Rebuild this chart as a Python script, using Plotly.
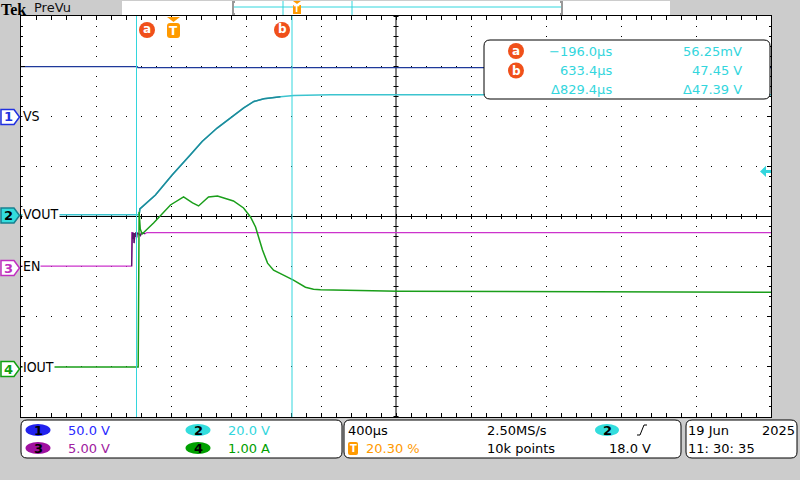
import plotly.graph_objects as go

# ---------------- data ----------------
TIME_RANGE = [-812, 3188]          # µs, 400 µs/div, trigger at 20.30 %
TIME_DIV = 400

# Channel 1  VS  (V)
vs_t = [-812, -192, -188, 3188]
vs_v = [49.5, 49.5, 48.5, 48.5]

# Channel 2  VOUT (V)
vout_t = [-812, -182, -178, -95, -6, 92, 154, 234, 305, 376, 430, 483, 572, 643, 839, 3188]
vout_v = [0.7, 0.7, 3.0, 8.6, 16.6, 24.6, 29.9, 35.3, 39.3, 43.3, 45.9, 47.0, 47.8, 48.3, 48.6, 48.6]

# Channel 3  EN (V)
en_t = [-812, -222, -221, -218, -216, -214, -211, -209, -207, -204, -202, -200, -196, -195,
        -193, -185, -175, -170, -150, -140, 3188]
en_v = [0.05, 0.05, 3.4, 3.4, 2.75, 3.35, 3.3, 2.35, 3.3, 3.35, 2.95, 3.35, 3.3, 2.9,
        3.35, 3.3, 3.1, 3.35, 3.3, 3.4, 3.4]

# Channel 4  IOUT (A)
io_t = [-812, -187, -182, -176, -166, -105, -15, 55, 103, 135, 188, 236, 321, 375, 412, 439,
        455, 476, 503, 535, 588, 641, 705, 748, 785, 1200, 3188]
io_v = [0, 0, 3.09, 2.75, 2.65, 2.87, 3.23, 3.39, 3.27, 3.21, 3.39, 3.41, 3.31, 3.17, 2.99, 2.79,
        2.59, 2.33, 2.07, 1.93, 1.83, 1.73, 1.59, 1.55, 1.54, 1.51, 1.49]

# Cursors
cursor_a_t = -196.0
cursor_b_t = 633.4
trigger_level = 18.0

# Scales (value range per channel, 8 vertical divisions)
ch1_range = [-300, 100]   # 50 V/div
ch2_range = [-80, 80]     # 20 V/div
ch3_range = [-15, 25]     # 5 V/div
ch4_range = [-1, 7]       # 1 A/div

readout_rows = [["−196.0µs", "56.25mV"], ["633.4µs", "47.45 V"], ["Δ829.4µs", "Δ47.39 V"]]

# ---------------- geometry helpers ----------------
W, H = 800, 480
L, R, T, B = 21, 771, 16, 417


def px(x):
    return (x - L) / (R - L)


def py(y):
    return (B - y) / (B - T)


def rrect(x0, y0, x1, y1, r):
    return (f"M{px(x0 + r)},{py(y0)} L{px(x1 - r)},{py(y0)} Q{px(x1)},{py(y0)} {px(x1)},{py(y0 + r)} "
            f"L{px(x1)},{py(y1 - r)} Q{px(x1)},{py(y1)} {px(x1 - r)},{py(y1)} "
            f"L{px(x0 + r)},{py(y1)} Q{px(x0)},{py(y1)} {px(x0)},{py(y1 - r)} "
            f"L{px(x0)},{py(y0 + r)} Q{px(x0)},{py(y0)} {px(x0 + r)},{py(y0)} Z")


def poly(points):
    s = "M" + " L".join(f"{px(x)},{py(y)}" for x, y in points) + " Z"
    return s


FONT = "DejaVu Sans"
C1, C2, C2D, C3, C4 = "#1f3a9a", "#3cc4cf", "#1f8a9a", "#cc33cc", "#1a9e1a"
CYAN = "#33d6dd"
ORANGE = "#ff9a00"
RED = "#f0501a"

fig = go.Figure()

fig.add_trace(go.Scatter(x=vs_t, y=vs_v, mode="lines", line=dict(color=C1, width=1.3), yaxis="y2"))
fig.add_trace(go.Scatter(x=en_t, y=en_v, mode="lines", line=dict(color=C3, width=1.3), yaxis="y3"))
g_t = [t for t in en_t if -222 <= t <= -150]
g_v = [v for t, v in zip(en_t, en_v) if -222 <= t <= -150]
fig.add_trace(go.Scatter(x=g_t, y=g_v, mode="lines", line=dict(color="#5a1a6a", width=1.3), yaxis="y3"))
fig.add_trace(go.Scatter(x=io_t, y=io_v, mode="lines", line=dict(color=C4, width=1.5), yaxis="y4"))
fig.add_trace(go.Scatter(x=vout_t, y=vout_v, mode="lines", line=dict(color=C2, width=1.5), yaxis="y"))
r_t = [t for t in vout_t if -182 <= t <= 572]
r_v = [v for t, v in zip(vout_t, vout_v) if -182 <= t <= 572]
fig.add_trace(go.Scatter(x=r_t, y=r_v, mode="lines", line=dict(color=C2D, width=1.5), yaxis="y"))

shapes = []
ann = []

# center crosshair
shapes.append(dict(type="line", xref="paper", yref="paper", x0=0.5, x1=0.5, y0=0, y1=1,
                   line=dict(color="black", width=1), layer="below"))
shapes.append(dict(type="line", xref="paper", yref="paper", x0=0, x1=1, y0=0.5, y1=0.5,
                   line=dict(color="black", width=5, dash="1px,14px"), layer="below"))
shapes.append(dict(type="line", xref="paper", yref="paper", x0=0.5, x1=0.5, y0=1, y1=0,
                   line=dict(color="black", width=5, dash="1px,9px"), layer="below"))

# cursors
for ct in (cursor_a_t, cursor_b_t):
    shapes.append(dict(type="line", xref="x", yref="paper", x0=ct, x1=ct, y0=0, y1=1,
                       line=dict(color=CYAN, width=1), layer="above"))

# cursor badges on top of graticule
for lab, cx in (("a", 147), ("b", 282)):
    shapes.append(dict(type="circle", xref="paper", yref="paper", x0=px(cx - 8), x1=px(cx + 8),
                       y0=py(22), y1=py(38), fillcolor=RED, line=dict(width=0), layer="above"))
    ann.append(dict(x=px(cx), y=py(29.5), text=f"<b>{lab}</b>", font=dict(family=FONT, size=12, color="white")))

# trigger position marker
shapes.append(dict(type="path", xref="paper", yref="paper",
                   path=poly([(167, 17), (180, 17), (173.5, 22)]), fillcolor=ORANGE, line=dict(width=0)))
shapes.append(dict(type="path", xref="paper", yref="paper", path=rrect(167, 23, 180, 38, 3),
                   fillcolor=ORANGE, line=dict(width=0)))
ann.append(dict(x=px(173.5), y=py(30.5), text="<b>T</b>", font=dict(family=FONT, size=12, color="white")))

# trigger level arrow
shapes.append(dict(type="path", xref="paper", yref="y",
                   path=f"M{px(760)},{trigger_level} L{px(766)},{trigger_level + 2.2} L{px(766)},{trigger_level + 0.6} "
                        f"L{px(771)},{trigger_level + 0.6} L{px(771)},{trigger_level - 0.6} L{px(766)},{trigger_level - 0.6} "
                        f"L{px(766)},{trigger_level - 2.2} Z",
                   fillcolor=CYAN, line=dict(width=0), layer="above"))

# readout box
shapes.append(dict(type="path", xref="paper", yref="paper", path=rrect(484, 40, 770, 99, 6),
                   fillcolor="white", line=dict(color="black", width=1), layer="above"))
for i, (lab, cy) in enumerate((("a", 51), ("b", 70.5))):
    shapes.append(dict(type="circle", xref="paper", yref="paper", x0=px(508), x1=px(524),
                       y0=py(cy - 8), y1=py(cy + 8), fillcolor=RED, line=dict(width=0), layer="above"))
    ann.append(dict(x=px(516), y=py(cy), text=f"<b>{lab}</b>", font=dict(family=FONT, size=12, color="white")))
for (tv, vv), cy in zip(readout_rows, (51.5, 70.5, 89)):
    ann.append(dict(x=px(614), y=py(cy), text=tv, xanchor="right",
                    font=dict(family=FONT, size=13, color=CYAN)))
    ann.append(dict(x=px(744), y=py(cy), text=vv, xanchor="right",
                    font=dict(family=FONT, size=13, color=CYAN)))

# header
ann.append(dict(x=px(0), y=py(0), text="<b>Tek</b>", xanchor="left", yanchor="top", borderpad=0,
                font=dict(family="Liberation Serif", size=16, color="black")))
ann.append(dict(x=px(32), y=py(8), text="PreVu", xanchor="left",
                font=dict(family=FONT, size=13, color="#111")))
shapes.append(dict(type="rect", xref="paper", yref="paper", x0=px(122), x1=px(670), y0=py(1), y1=py(15),
                   fillcolor="white", line=dict(width=0)))
shapes.append(dict(type="line", xref="paper", yref="paper", x0=px(234), x1=px(561), y0=py(7), y1=py(7),
                   line=dict(color=CYAN, width=1)))
for bx, d in ((233, 1), (562, -1)):
    shapes.append(dict(type="path", xref="paper", yref="paper",
                       path=f"M{px(bx + 2 * d)},{py(2)} L{px(bx)},{py(2)} L{px(bx)},{py(14)} L{px(bx + 2 * d)},{py(14)}",
                       line=dict(color="#999999", width=2)))
for cx in (283, 352):
    shapes.append(dict(type="line", xref="paper", yref="paper", x0=px(cx), x1=px(cx), y0=py(1), y1=py(15),
                       line=dict(color=CYAN, width=1)))
shapes.append(dict(type="path", xref="paper", yref="paper", path=poly([(293, 1), (301, 1), (297, 4)]),
                   fillcolor=ORANGE, line=dict(width=0)))
shapes.append(dict(type="rect", xref="paper", yref="paper", x0=px(293), x1=px(301), y0=py(5), y1=py(14),
                   fillcolor=ORANGE, line=dict(width=0)))
ann.append(dict(x=px(297), y=py(9.5), text="<b>T</b>", font=dict(family=FONT, size=8, color="white")))

# left channel markers and labels
markers = [("1", 117, "white", "#2030e0", "#2030e0"),
           ("2", 215.5, "#33dddd", "#1a8090", "black"),
           ("3", 268, "white", "#c030c0", "#c030c0"),
           ("4", 369, "white", "#10a010", "#10a010")]
for num, cy, fill, lc, tc in markers:
    shapes.append(dict(type="path", xref="paper", yref="paper",
                       path=poly([(1, cy - 7.5), (14, cy - 7.5), (19.5, cy), (14, cy + 7.5), (1, cy + 7.5)]),
                       fillcolor=fill, line=dict(color=lc, width=1.5)))
    ann.append(dict(x=px(8), y=py(cy), text=f"<b>{num}</b>", font=dict(family=FONT, size=13, color=tc)))
labels = [("VS", 116), ("VOUT", 214), ("EN", 266), ("IOUT", 367)]
for txt, cy in labels:
    ann.append(dict(x=px(22), y=py(cy), text=txt, xanchor="left", bgcolor="white", borderpad=0,
                    font=dict(family="DejaVu Sans Condensed, DejaVu Sans", size=14, color="black")))

# bottom panels
for x0, x1 in ((21, 342), (344, 681), (686, 797)):
    shapes.append(dict(type="path", xref="paper", yref="paper", path=rrect(x0, 420, x1, 458, 6),
                       fillcolor="white", line=dict(color="black", width=1)))
badges = [("1", 38, 430, "#2222ee"), ("3", 38, 448, "#a010a0"),
          ("2", 198, 430, "#33dddd"), ("4", 198, 448, "#00a000")]
for num, cx, cy, col in badges:
    shapes.append(dict(type="circle", xref="paper", yref="paper", x0=px(cx - 12.5), x1=px(cx + 12.5),
                       y0=py(cy - 6), y1=py(cy + 6), fillcolor=col, line=dict(width=0)))
    ann.append(dict(x=px(cx), y=py(cy), text=f"<b>{num}</b>", font=dict(family=FONT, size=13, color="black")))
scales = [("50.0 V", 66, 430, "#2a2aff"), ("5.00 V", 66, 448, "#a020a0"),
          ("20.0 V", 226, 430, "#33d6dd"), ("1.00 A", 226, 448, "#00a000")]
for txt, x, y, col in scales:
    ann.append(dict(x=px(x), y=py(y), text=txt, xanchor="left", font=dict(family=FONT, size=13, color=col)))

ann.append(dict(x=px(346), y=py(430), text="400µs", xanchor="left", font=dict(family=FONT, size=13, color="black")))
shapes.append(dict(type="path", xref="paper", yref="paper", path=rrect(348, 442, 358, 455, 2),
                   fillcolor=ORANGE, line=dict(width=0)))
ann.append(dict(x=px(353), y=py(448.5), text="<b>T</b>", font=dict(family=FONT, size=10, color="white")))
ann.append(dict(x=px(364), y=py(448), text="20.30 %", xanchor="left", font=dict(family=FONT, size=13, color=ORANGE)))
ann.append(dict(x=px(485), y=py(430), text="2.50MS/s", xanchor="left", font=dict(family=FONT, size=13, color="black")))
ann.append(dict(x=px(485), y=py(448), text="10k points", xanchor="left", font=dict(family=FONT, size=13, color="black")))
shapes.append(dict(type="circle", xref="paper", yref="paper", x0=px(595), x1=px(619), y0=py(424), y1=py(436),
                   fillcolor="#33dddd", line=dict(width=0)))
ann.append(dict(x=px(607), y=py(430), text="<b>2</b>", font=dict(family=FONT, size=13, color="black")))
shapes.append(dict(type="path", xref="paper", yref="paper",
                   path=f"M{px(637)},{py(435)} L{px(640)},{py(435)} L{px(644)},{py(425)} L{px(647)},{py(425)}",
                   line=dict(color="black", width=1)))
ann.append(dict(x=px(607), y=py(448), text="18.0 V", xanchor="left", font=dict(family=FONT, size=13, color="black")))
ann.append(dict(x=px(686), y=py(430), text="19 Jun", xanchor="left", font=dict(family=FONT, size=13, color="black")))
ann.append(dict(x=px(760), y=py(430), text="2025", xanchor="left", font=dict(family=FONT, size=13, color="black")))
ann.append(dict(x=px(686), y=py(448), text="11: 30: 35", xanchor="left", font=dict(family=FONT, size=13, color="black")))

for a in ann:
    a.setdefault("xref", "paper")
    a.setdefault("yref", "paper")
    a.setdefault("showarrow", False)
    a.setdefault("xanchor", "center")
    a.setdefault("yanchor", "middle")

fig.update_layout(
    width=W, height=H,
    margin=dict(l=L, r=W - R, t=T, b=H - B, pad=0),
    paper_bgcolor="#cccccc", plot_bgcolor="white",
    showlegend=False,
    xaxis=dict(range=TIME_RANGE, tick0=TIME_RANGE[0], dtick=TIME_DIV, showticklabels=False,
               showgrid=True, gridcolor="black", gridwidth=1, griddash="1px,9px",
               zeroline=False, showline=True, linecolor="black", linewidth=1, mirror="allticks",
               ticks="inside", ticklen=4, tickcolor="black",
               minor=dict(dtick=TIME_DIV / 5, tick0=TIME_RANGE[0], ticks="inside", ticklen=2,
                          tickcolor="black", showgrid=False),
               fixedrange=True),
    yaxis=dict(range=ch2_range, dtick=20, tick0=0, showticklabels=False,
               showgrid=True, gridcolor="black", gridwidth=1, griddash="1px,14px",
               zeroline=True, zerolinecolor="black", zerolinewidth=1,
               showline=True, linecolor="black", linewidth=1, mirror="allticks",
               ticks="inside", ticklen=4, tickcolor="black",
               minor=dict(dtick=4, tick0=0, ticks="inside", ticklen=2, tickcolor="black", showgrid=False),
               fixedrange=True),
    yaxis2=dict(range=ch1_range, overlaying="y", visible=False, fixedrange=True),
    yaxis3=dict(range=ch3_range, overlaying="y", visible=False, fixedrange=True),
    yaxis4=dict(range=ch4_range, overlaying="y", visible=False, fixedrange=True),
    shapes=shapes,
    annotations=ann,
)

fig.write_html("out.html", config={"displayModeBar": False},
               post_script="document.body.style.margin='0';document.body.style.overflow='hidden';")
